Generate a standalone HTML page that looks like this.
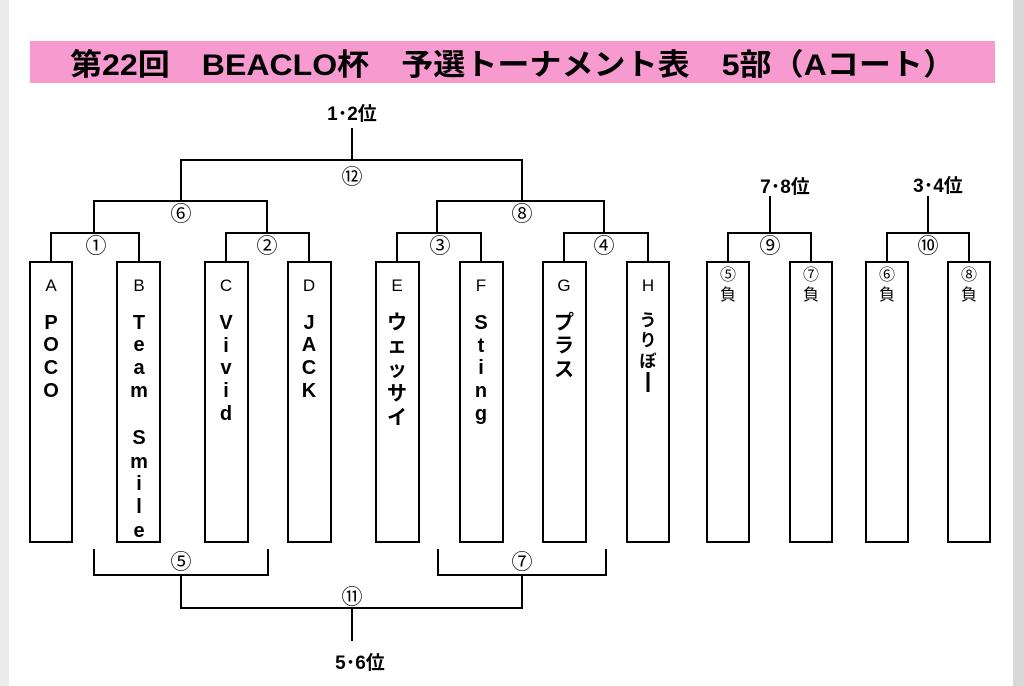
<!DOCTYPE html>
<html><head><meta charset="utf-8"><style>
html,body{margin:0;padding:0;background:#fff;}
svg{display:block;}
.t{font-family:"Liberation Sans","Noto Sans CJK JP",sans-serif;}
</style></head><body>
<svg width="1024" height="686" viewBox="0 0 1024 686" xmlns="http://www.w3.org/2000/svg">
<rect x="0" y="0" width="9" height="686" fill="#ececec"/>
<rect x="1013" y="0" width="11" height="686" fill="#d8d8d8"/>
<rect x="30" y="41" width="965" height="42" fill="#f79ad0"/>
<text class="t" x="70" y="75" font-size="30" font-weight="bold" textLength="885" lengthAdjust="spacingAndGlyphs">第22回　BEACLO杯　予選トーナメント表　5部（Aコート）</text>

<g stroke="#000" stroke-width="2" fill="none">
<rect x="30" y="262" width="42" height="280"/>
<rect x="117" y="262" width="43" height="280"/>
<rect x="205" y="262" width="43" height="280"/>
<rect x="288" y="262" width="43" height="280"/>
<rect x="376" y="262" width="43" height="280"/>
<rect x="460" y="262" width="43" height="280"/>
<rect x="543" y="262" width="43" height="280"/>
<rect x="627" y="262" width="42" height="280"/>
<rect x="707" y="262" width="42" height="280"/>
<rect x="790" y="262" width="42" height="280"/>
<rect x="866" y="262" width="42" height="280"/>
<rect x="948" y="262" width="42" height="280"/>
<polyline points="51,262 51,233 139,233 139,262"/>
<polyline points="226,262 226,233 309,233 309,262"/>
<polyline points="397,262 397,233 481,233 481,262"/>
<polyline points="564,262 564,233 648,233 648,262"/>
<polyline points="728,262 728,233 811,233 811,262"/>
<line x1="770" y1="233" x2="770" y2="196"/>
<polyline points="887,262 887,233 969,233 969,262"/>
<line x1="928" y1="233" x2="928" y2="196"/>
<polyline points="94,233 94,201 267,201 267,233"/>
<polyline points="437,233 437,201 604,201 604,233"/>
<polyline points="181,201 181,160 522,160 522,201"/>
<line x1="352" y1="160" x2="352" y2="128"/>
<polyline points="94,549 94,575 268,575 268,549"/>
<polyline points="438,549 438,575 606,575 606,549"/>
<polyline points="181,575 181,608 522,608 522,575"/>
<line x1="352" y1="608" x2="352" y2="641"/>
<line x1="648" y1="372" x2="648" y2="392" stroke-width="3"/>
</g>

<g class="t" font-size="21" text-anchor="middle" fill="#000">
<text x="96" y="253">①</text>
<text x="267" y="253">②</text>
<text x="440" y="253">③</text>
<text x="604" y="253">④</text>
<text x="770" y="253">⑨</text>
<text x="928" y="253">⑩</text>
<text x="181" y="221">⑥</text>
<text x="522" y="221">⑧</text>
<text x="352" y="184">⑫</text>
<text x="181" y="569">⑤</text>
<text x="522" y="569">⑦</text>
<text x="352" y="604">⑪</text>
</g>
<g class="t" font-size="19" font-weight="bold" text-anchor="middle">
<text x="352" y="120">1･2位</text>
<text x="785" y="193">7･8位</text>
<text x="938" y="192">3･4位</text>
<text x="360" y="669">5･6位</text>
</g>

<g class="t" font-size="17" text-anchor="middle">
<text x="51" y="291">A</text>
<text x="139" y="291">B</text>
<text x="226" y="291">C</text>
<text x="309" y="291">D</text>
<text x="397" y="291">E</text>
<text x="481" y="291">F</text>
<text x="564" y="291">G</text>
<text x="648" y="291">H</text>
</g>
<g class="t" font-size="16" text-anchor="middle">
<text x="728" y="280">⑤</text><text x="728" y="300">負</text>
<text x="811" y="280">⑦</text><text x="811" y="300">負</text>
<text x="887" y="280">⑥</text><text x="887" y="300">負</text>
<text x="969" y="280">⑧</text><text x="969" y="300">負</text>
</g>

<g class="t" font-size="20" font-weight="bold" text-anchor="middle">
<text x="51" y="329">P</text><text x="51" y="351">O</text><text x="51" y="374">C</text><text x="51" y="397">O</text>
<text x="139" y="329">T</text><text x="139" y="351">e</text><text x="139" y="374">a</text><text x="139" y="397">m</text>
<text x="139" y="444">S</text><text x="139" y="468">m</text><text x="139" y="490">i</text><text x="139" y="513">l</text><text x="139" y="537">e</text>
<text x="226" y="329">V</text><text x="226" y="352">i</text><text x="226" y="374">v</text><text x="226" y="397">i</text><text x="226" y="420">d</text>
<text x="309" y="329">J</text><text x="309" y="351">A</text><text x="309" y="374">C</text><text x="309" y="397">K</text>
<text x="397" y="329">ウ</text><text x="397" y="352">ェ</text><text x="397" y="376">ッ</text><text x="397" y="400">サ</text><text x="397" y="424">イ</text>
<text x="481" y="329">S</text><text x="481" y="352">t</text><text x="481" y="374">i</text><text x="481" y="397">n</text><text x="481" y="420">g</text>
<text x="564" y="329">プ</text><text x="564" y="352">ラ</text><text x="564" y="376">ス</text>
</g>
<g class="t" font-size="17" font-weight="bold" text-anchor="middle">
<text x="648" y="326">う</text><text x="648" y="346">り</text><text x="648" y="367">ぼ</text>
</g>
</svg>
</body></html>
